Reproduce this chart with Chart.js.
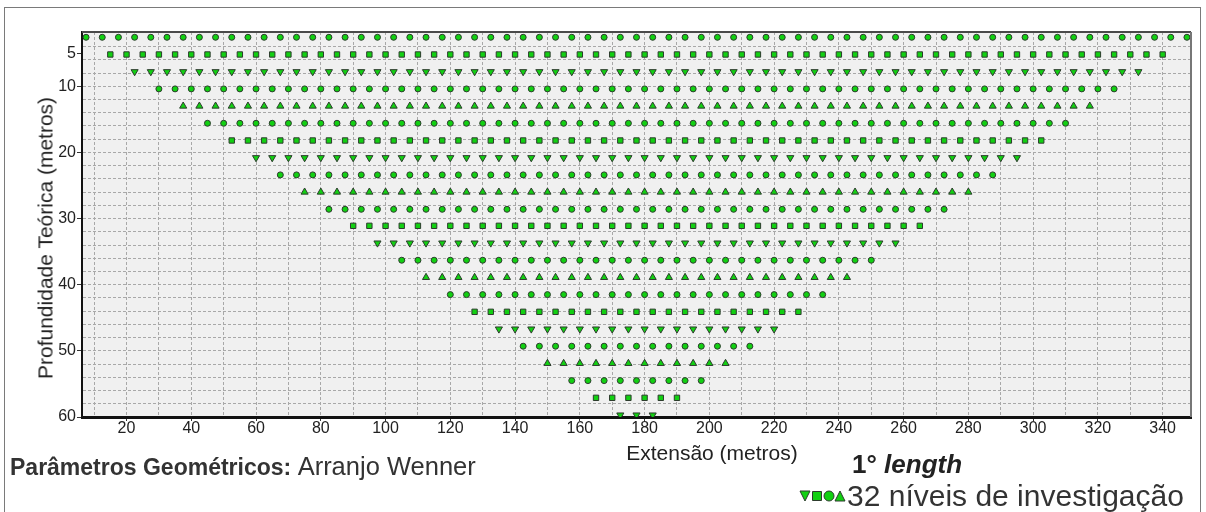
<!DOCTYPE html>
<html>
<head>
<meta charset="utf-8">
<script src="https://cdn.jsdelivr.net/npm/chart.js@4.4.0/dist/chart.umd.min.js"></script>
<style>
body { margin: 0; background: #fff; width: 1206px; height: 512px; overflow: hidden; position: relative; font-family: "Liberation Sans", Arial, sans-serif; }
#frame { position: absolute; left: 4px; top: 7px; width: 1197px; height: 530px; border: 1.5px solid #7a7a7a; box-sizing: border-box; }
#wrap { position: absolute; left: 0; top: 0; width: 1206px; height: 512px; }
.txt { position: absolute; white-space: nowrap; line-height: 1; color: #333; }
#ytitle { left: 45px; top: 238px; font-size: 21px; color: #222; transform: translate(-50%, -50%) rotate(-90deg); }
#xtitle { left: 712px; top: 452px; font-size: 21px; color: #222; transform: translate(-50%, -50%); }
#params { left: 10px; top: 467px; font-size: 23px; transform: translateY(-50%); }
#params span { font-size: 25.5px; }
#length { left: 852px; top: 464px; font-size: 26px; font-weight: bold; color: #222; transform: translateY(-50%); }
#niveis { left: 847px; top: 496px; font-size: 30px; transform: translateY(-50%); }
</style>
</head>
<body>
<div id="frame"></div>
<div id="wrap"><canvas id="goo" width="1206" height="512"></canvas></div>
<div class="txt" id="ytitle">Profundidade Teórica (metros)</div>
<div class="txt" id="xtitle">Extensão (metros)</div>
<div class="txt" id="params"><b>Parâmetros Geométricos:</b> <span>Arranjo Wenner</span></div>
<div class="txt" id="length">1° <i>length</i></div>
<div class="txt" id="niveis">32 níveis de investigação</div>
<script>
// pseudo-secao Wenner: uma linha de pontos por nivel
const levelDepth = [2.6, 5.2, 7.8, 10.4, 13.0, 15.6, 18.2, 20.8, 23.4, 26.0, 28.6, 31.1,
    33.7, 36.3, 38.9, 41.5, 44.1, 46.7, 49.3, 51.9, 54.5, 57.1, 59.7];
const levelFirstX = [7.5, 15, 22.5, 30, 37.5, 45, 52.5, 60, 67.5, 75, 82.5, 90,
    97.5, 105, 112.5, 120, 127.5, 135, 142.5, 150, 157.5, 165, 172.5];
const levelLastX = [347.5, 340, 332.5, 325, 317.5, 310, 302.5, 295, 287.5, 280, 272.5, 265,
    257.5, 250, 242.5, 235, 227.5, 220, 212.5, 205, 197.5, 190, 182.5];
const levelShape = ['circle', 'square', 'down', 'circle', 'up', 'circle', 'square', 'down', 'circle', 'up', 'circle', 'square',
    'down', 'circle', 'up', 'circle', 'square', 'down', 'circle', 'up', 'circle', 'square', 'down'];
const stepX = 5;

const xTicks = [10, 20, 30, 40, 50, 60, 70, 80, 90, 100, 110, 120, 130, 140, 150, 160, 170,
    180, 190, 200, 210, 220, 230, 240, 250, 260, 270, 280, 290, 300, 310, 320, 330, 340];
const xLabels = [20, 40, 60, 80, 100, 120, 140, 160, 180, 200, 220, 240, 260, 280, 300, 320, 340];
const yTicks = [4, 5, 6, 8, 10, 12, 14, 16, 18, 20, 22, 24, 26, 28, 30, 32, 34, 36, 38, 40,
    42, 44, 46, 48, 50, 52, 54, 56, 58, 60];
const yLabels = [5, 10, 20, 30, 40, 50, 60];

const green = '#12d012';
const edge = '#2d3b2d';

let datasets = [];
for (let i = 0; i < levelDepth.length; i++) {
    let pts = [];
    for (let x = levelFirstX[i]; x <= levelLastX[i] + 0.01; x += stepX) {
        pts.push({ x: x, y: levelDepth[i] });
    }
    let s = levelShape[i];
    datasets.push({
        data: pts,
        pointStyle: s == 'circle' ? 'circle' : (s == 'square' ? 'rect' : 'triangle'),
        rotation: s == 'down' ? 180 : 0,
        pointRadius: s == 'circle' ? 3 : (s == 'square' ? 3.8 : 4.1),
        backgroundColor: green,
        borderColor: edge,
        borderWidth: 1
    });
}

const plotDeco = {
    id: 'plotDeco',
    beforeDraw(chart) {
        const a = chart.chartArea;
        const c = chart.ctx;
        c.save();
        c.fillStyle = '#f0f0f0';
        c.fillRect(a.left, a.top, a.right - a.left, a.bottom - a.top);
        c.restore();
    },
    afterDraw(chart) {
        const a = chart.chartArea;
        const c = chart.ctx;
        c.save();
        // top and right borders
        c.strokeStyle = '#4a4a4a';
        c.lineWidth = 2;
        c.beginPath();
        c.moveTo(a.left, a.top);
        c.lineTo(a.right, a.top);
        c.stroke();
        c.strokeStyle = '#777';
        c.beginPath();
        c.moveTo(a.right, a.top);
        c.lineTo(a.right, a.bottom);
        c.stroke();
        // legend icons
        let y = 496;
        c.fillStyle = green;
        c.strokeStyle = edge;
        c.lineWidth = 1;
        c.beginPath();
        c.moveTo(800, y - 5); c.lineTo(810, y - 5); c.lineTo(805, y + 5); c.closePath();
        c.fill(); c.stroke();
        c.beginPath();
        c.rect(812.5, y - 4.5, 9, 9);
        c.fill(); c.stroke();
        c.beginPath();
        c.arc(829, y, 5, 0, Math.PI * 2);
        c.fill(); c.stroke();
        c.beginPath();
        c.moveTo(840, y - 5); c.lineTo(845, y + 5); c.lineTo(835, y + 5); c.closePath();
        c.fill(); c.stroke();
        c.restore();
    }
};

var ctx = document.getElementById('goo').getContext('2d');
var goo = new Chart(ctx, {
    type: 'scatter',
    data: { datasets: datasets },
    plugins: [plotDeco],
    options: {
        responsive: false,
        animation: false,
        devicePixelRatio: 1,
        layout: { padding: { left: 0, right: 15, top: 32, bottom: 55 } },
        plugins: { legend: { display: false }, tooltip: { enabled: false } },
        scales: {
            x: {
                type: 'linear',
                min: 6.25,
                max: 348.75,
                afterFit: function(s) { s.height = 40; },
                afterBuildTicks: function(s) { s.ticks = xTicks.map(v => ({ value: v })); },
                ticks: {
                    autoSkip: false,
                    maxRotation: 0,
                    padding: -2,
                    color: '#222',
                    font: { family: 'Liberation Sans', size: 16 },
                    callback: v => xLabels.includes(v) ? String(v) : ''
                },
                grid: {
                    color: '#a8a8a8',
                    lineWidth: 1,
                    tickLength: 4,
                    tickColor: c => xLabels.includes(c.tick.value) ? '#333' : 'rgba(0,0,0,0)'
                },
                border: { color: '#111', width: 3, dash: [3, 2] }
            },
            y: {
                type: 'linear',
                reverse: true,
                min: 1.8,
                max: 60,
                afterFit: function(s) { s.width = 82; },
                afterBuildTicks: function(s) { s.ticks = yTicks.map(v => ({ value: v })); },
                ticks: {
                    autoSkip: false,
                    padding: 1,
                    color: '#222',
                    font: { family: 'Liberation Sans', size: 16 },
                    callback: v => yLabels.includes(v) ? String(v) : ''
                },
                grid: {
                    color: c => (c.tick.value % 2 == 0 && c.tick.value < 60) ? '#a8a8a8' : 'rgba(0,0,0,0)',
                    lineWidth: 1,
                    tickLength: 5,
                    tickColor: c => yLabels.includes(c.tick.value) ? '#333' : 'rgba(0,0,0,0)'
                },
                border: { color: '#111', width: 2, dash: [3, 2] }
            }
        }
    }
});
</script>
</body>
</html>
